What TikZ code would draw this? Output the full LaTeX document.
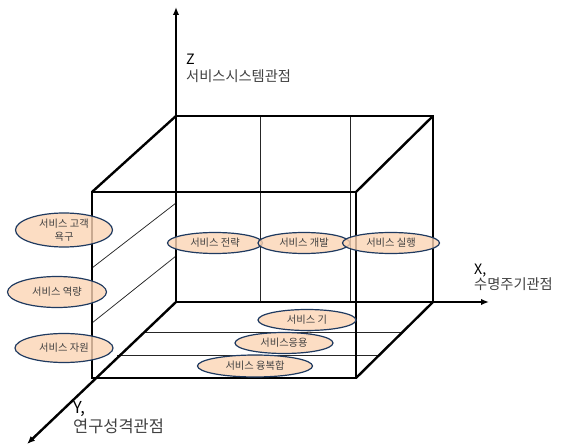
\documentclass[tikz,border=0pt]{standalone}
\usepackage{fontspec}
\setmainfont{Noto Sans CJK KR}
\usetikzlibrary{shapes.geometric,arrows.meta,calc,positioning}
\definecolor{peach}{HTML}{FBD4B4}
\definecolor{navy}{HTML}{1F3A60}
\definecolor{textgray}{HTML}{404040}
\tikzstyle{facet} = [ellipse, draw=navy, line width=1.2bp, fill=peach, fill opacity=0.8, text opacity=1, text=textgray, inner sep=0pt, align=center, font=\fontsize{10.3}{12.5}\selectfont]
\tikzstyle{edge} = [line width=2.4bp]
\tikzstyle{grid} = [line width=0.75bp, black!85]
\tikzstyle{axis} = [line width=2bp, -{Latex[length=8bp,width=6.5bp]}]
\tikzstyle{axisname} = [anchor=base west, inner sep=0pt, font=\fontsize{14.3}{16}\selectfont]
\tikzstyle{axisview} = [anchor=base west, inner sep=0pt, text=textgray, font=\fontsize{14.3}{16}\selectfont]

\begin{document}
\begin{tikzpicture}[x=1bp, y=-1bp]
  \useasboundingbox (0,0) rectangle (565,446);
  % corners of the box
  \coordinate (O) at (176,302);
  \coordinate (BTL) at (176,116);
  \coordinate (BTR) at (433,116);
  \coordinate (BBR) at (433,302);
  \coordinate (FTL) at (92,192);
  \coordinate (FTR) at (356,192);
  \coordinate (FBR) at (356,378);
  \coordinate (FBL) at (92,378);
  % axis ends
  \coordinate (zend) at (176,7);
  \coordinate (xend) at (489,302);
  \coordinate (yend) at (27,444);

  % thin partitions
  \draw [grid] (260,116) -- (260,302);
  \draw [grid] (350,116) -- (350,302);
  \draw [grid] (92,268) -- (176,203);
  \draw [grid] (92,323) -- (176,256);
  \draw [grid] ($(O)!0.395!(FBL)$) -- ($(BBR)!0.395!(FBR)$);
  \draw [grid] ($(O)!0.697!(FBL)$) -- ($(BBR)!0.697!(FBR)$);

  % box
  \draw [edge] (BTL) -- (BTR) -- (BBR);
  \draw [edge] (FTL) -- (FTR) -- (FBR) -- (FBL) -- cycle;
  \draw [edge] (BTL) -- (FTL);
  \draw [edge] (BTR) -- (FTR);
  \draw [edge] (BBR) -- (FBR);

  % axes
  \draw [axis] (O) -- (zend);
  \draw [axis] (O) -- (xend);
  \draw [axis, line width=2.4bp] (O) -- (yend);

  \node (zname)[axisname] at (186,65) {Z};
  \node (zview)[axisview] at (186,82) {서비스시스템관점};
  \node (xname)[axisname] at (474,275) {X,};
  \node (xview)[axisview] at (474,289) {수명주기관점};
  \node (yname)[axisname, font=\fontsize{16.5}{18}\selectfont] at (73,413) {Y,};
  \node (yview)[axisview, font=\fontsize{16.5}{18}\selectfont] at (73,432) {연구성격관점};

  % facets
  \node (need)[facet, minimum width=97bp, minimum height=34bp] at (64,230) {서비스 고객\\욕구};
  \node (capability)[facet, minimum width=99bp, minimum height=31bp] at (57,292) {서비스 역량};
  \node (resource)[facet, minimum width=98bp, minimum height=29bp] at (64,348) {서비스 자원};
  \node (strategy)[facet, minimum width=95bp, minimum height=21bp] at (215,243) {서비스 전략};
  \node (develop)[facet, minimum width=92bp, minimum height=21bp] at (304,243) {서비스 개발};
  \node (execute)[facet, minimum width=97bp, minimum height=21bp] at (391,243) {서비스 실행};
  \node (basis)[facet, minimum width=98bp, minimum height=21bp] at (307,320) {서비스 기};
  \node (basisrest)[inner sep=0pt, text=textgray!60, font=\fontsize{6.5}{7}\selectfont] at (309,334) {조};
  \node (apply)[facet, minimum width=98bp, minimum height=21bp] at (284,343) {서비스응용};
  \node (converge)[facet, minimum width=115bp, minimum height=22bp] at (255,366) {서비스 융복합};
\end{tikzpicture}
\end{document}
